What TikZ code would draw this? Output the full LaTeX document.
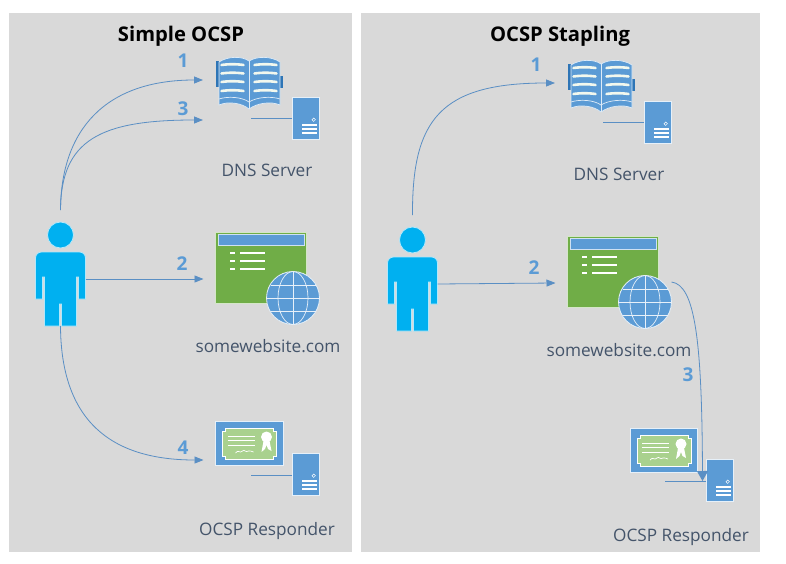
\documentclass[tikz,border=0pt]{standalone}
\usepackage{fontspec}
\setmainfont{Open Sans}
\usetikzlibrary{arrows.meta}
\definecolor{panelgray}{HTML}{D9D9D9}
\definecolor{iconblue}{HTML}{5B9BD5}
\definecolor{sitegreen}{HTML}{70AD47}
\definecolor{certgreen}{HTML}{A9D18E}
\definecolor{userblue}{HTML}{00B0F0}
\definecolor{txtblue}{HTML}{44546A}
\definecolor{bookdark}{HTML}{2E75B6}
\definecolor{flowblue}{HTML}{5A8FC4}
\tikzset{
  panel/.style={fill=panelgray,draw=none},
  flow/.style={flowblue,line width=0.8pt,-{Triangle[length=9pt,width=7pt]}},
  flowbig/.style={flowblue,line width=0.8pt,-{Triangle[length=10pt,width=11pt]}},
  stub/.style={flowblue,line width=1pt},
  title/.style={font=\fontsize{20.2}{23}\selectfont\bfseries,text=black},
  caption/.style={font=\fontsize{17.2}{20}\selectfont,text=txtblue},
  stepno/.style={font=\fontsize{19}{22}\selectfont\bfseries,text=iconblue},
  personicon/.pic={
    \fill[userblue,draw=userblue!30,line width=0.8pt] (0,-17) circle (13);
    \fill[userblue,draw=userblue!30,line width=0.8pt,rounded corners=6pt]
      (-25,30) -- (-25,0) -- (25,0) -- (25,30) [sharp corners] -- (25,47) -- (18,47) -- (18,25) -- (16,25) -- (16,74)
      -- (1,74) -- (1,52) -- (-1,52) -- (-1,74) -- (-16,74) -- (-16,25) -- (-18,25) -- (-18,47) -- (-25,47) -- cycle;
    \coordinate (-top) at (0,-42);
    \coordinate (-east) at (25,27);
    \coordinate (-south) at (0,74);
  },
  servericon/.pic={
    \fill[iconblue,draw=white!85!iconblue,line width=0.8pt] (0,0) rectangle (27,42);
    \draw[white,line width=0.5pt] (21.7,22.7) circle (1.7);
    \foreach \s in {28,32,36}{\draw[white,line width=1.8pt] (10,\s) -- (24.5,\s);}
    \coordinate (-west) at (0,22);
    \coordinate (-entry) at (-3.5,22);
    \coordinate (-free) at (-41,22);
  },
  bookicon/.pic={
    \fill[bookdark] (0,4) rectangle (3,30);
    \fill[bookdark] (64,19) rectangle (67,31);
    \fill[iconblue,draw=white!80!iconblue,line width=0.7pt]
      (3,5) .. controls (12,-1) and (26,-1) .. (33,4) .. controls (41,-1) and (55,-1) .. (64,5)
      -- (64,48) .. controls (55,44) and (41,46) .. (33,52) .. controls (26,46) and (12,44) .. (3,48) -- cycle;
    \draw[white!80!iconblue,line width=0.7pt] (33,4) -- (33,52);
    \draw[white!80!iconblue,line width=0.7pt] (3,42) .. controls (12,39) and (26,40) .. (33,45) .. controls (41,40) and (55,39) .. (64,42);
    \foreach \s in {8,16.5,25,34}{
      \draw[white!85!certgreen,line width=2.6pt,line cap=round] (5.5,\s) .. controls (12,\s-1) and (21,\s-1) .. (27.5,\s);
      \draw[white!85!certgreen,line width=2.6pt,line cap=round] (38.5,\s) .. controls (45,\s-1) and (54,\s-1) .. (60.5,\s);
    }
    \coordinate (-upper) at (-13,23);
    \coordinate (-lower) at (-13,63);
  },
  siteicon/.pic={
    \fill[sitegreen,draw=white!70!sitegreen,line width=0.8pt] (0,0) rectangle (90.5,71);
    \fill[iconblue,draw=white!70!iconblue,line width=0.8pt] (2.5,2) rectangle (88.5,13);
    \foreach \s in {21,29,37}{
      \fill[white] (14.5,\s-1.2) rectangle (19,\s+1.2);
      \fill[white] (24.5,\s-1.2) rectangle (49,\s+1.2);
    }
    \fill[iconblue,draw=white!85!iconblue,line width=0.8pt] (77.5,66) circle (26.5);
    \begin{scope}[white!85!iconblue,line width=0.7pt]
      \draw (77.5,39.5) -- (77.5,92.5);
      \draw (51,66) -- (104,66);
      \draw (77.5,66) ellipse (15 and 26.5);
      \draw (55,53) -- (100,53);
      \draw (55,79) -- (100,79);
    \end{scope}
    \coordinate (-west) at (-12,47);
    \coordinate (-east) at (104,46);
  },
  certicon/.pic={
    \fill[iconblue,draw=white!85!iconblue,line width=0.8pt] (0,0) rectangle (67.5,44);
    \fill[certgreen,draw=white,line width=0.7pt] (10,7) -- (58,7) -- (58,10) -- (61,10) -- (61,35) -- (58,35) -- (58,38)
      -- (10,38) -- (10,35) -- (7,35) -- (7,10) -- (10,10) -- cycle;
    \foreach \s in {15,19.5,24}{\draw[white,line width=0.8pt] (12,\s) -- (39,\s);}
    \draw[white,line width=0.7pt] (20,32) .. controls (23,28) and (24,33) .. (27,30) .. controls (29,28) and (30,32) .. (33,30) .. controls (35,29) and (36,31) .. (38,31);
    \fill[white] (51,16) circle (5.5);
    \fill[white] (48,20) -- (54,20) -- (56,30) -- (52.5,28) -- (51,24) -- (49.5,28) -- (46,31) -- cycle;
    \coordinate (-west) at (-12,39);
  },
}
\begin{document}
\begin{tikzpicture}[x=1pt,y=-1pt]
  \useasboundingbox (0,0) rectangle (786,564);
  \fill[white] (0,0) rectangle (786,564);
  \fill[panel] (9,13) rectangle (352,552);
  \fill[panel] (361,13) rectangle (760,552);

  \node[title] (titleA) at (181,36) {Simple OCSP};
  \node[title] (titleB) at (560,36) {OCSP Stapling};

  \pic (bookA) at (216,57) {bookicon};
  \pic (dnsA) at (292,97) {servericon};
  \pic (siteA) at (215.5,232) {siteicon};
  \pic (certA) at (215.5,421) {certicon};
  \pic (respA) at (292,453) {servericon};
  \pic (userA) at (60.5,252) {personicon};

  \pic (bookB) at (568,60) {bookicon};
  \pic (dnsB) at (644,101) {servericon};
  \pic (siteB) at (567.5,236) {siteicon};
  \pic (certB) at (630,428) {certicon};
  \pic (respB) at (706,459) {servericon};
  \pic (userB) at (412.5,257) {personicon};

  \foreach \n in {dnsA,respA,dnsB,respB}{\draw[stub] (\n-free) -- (\n-west);}

  \draw[flow] (userA-top) .. controls (61,130) and (105,80) .. (bookA-upper);
  \draw[flow] (userA-top) .. controls (61,140) and (100,120) .. (bookA-lower);
  \draw[flow] (userA-east) -- (siteA-west);
  \draw[flow] (userA-south) .. controls (61,420) and (110,460) .. (certA-west);
  \draw[flow] (userB-top) .. controls (412,120) and (440,83) .. (bookB-upper);
  \draw[flow] (userB-east) -- (siteB-west);
  \draw[flowbig] (siteB-east) .. controls (695,285) and (702,340) .. (respB-entry);

  \node[stepno] (noA1) at (183,61) {1};
  \node[stepno] (noA3) at (183,109) {3};
  \node[stepno] (noA2) at (182,264) {2};
  \node[stepno] (noA4) at (183,448) {4};
  \node[stepno] (noB1) at (536,65) {1};
  \node[stepno] (noB2) at (534,268) {2};
  \node[stepno] (noB3) at (688,375) {3};

  \node[caption] (capA1) at (267,170) {DNS Server};
  \node[caption] (capA2) at (268,346) {somewebsite.com};
  \node[caption] (capA3) at (267,531) {OCSP Responder};
  \node[caption] (capB1) at (619,174) {DNS Server};
  \node[caption] (capB2) at (619,350) {somewebsite.com};
  \node[caption] (capB3) at (681,537) {OCSP Responder};
\end{tikzpicture}
\end{document}
